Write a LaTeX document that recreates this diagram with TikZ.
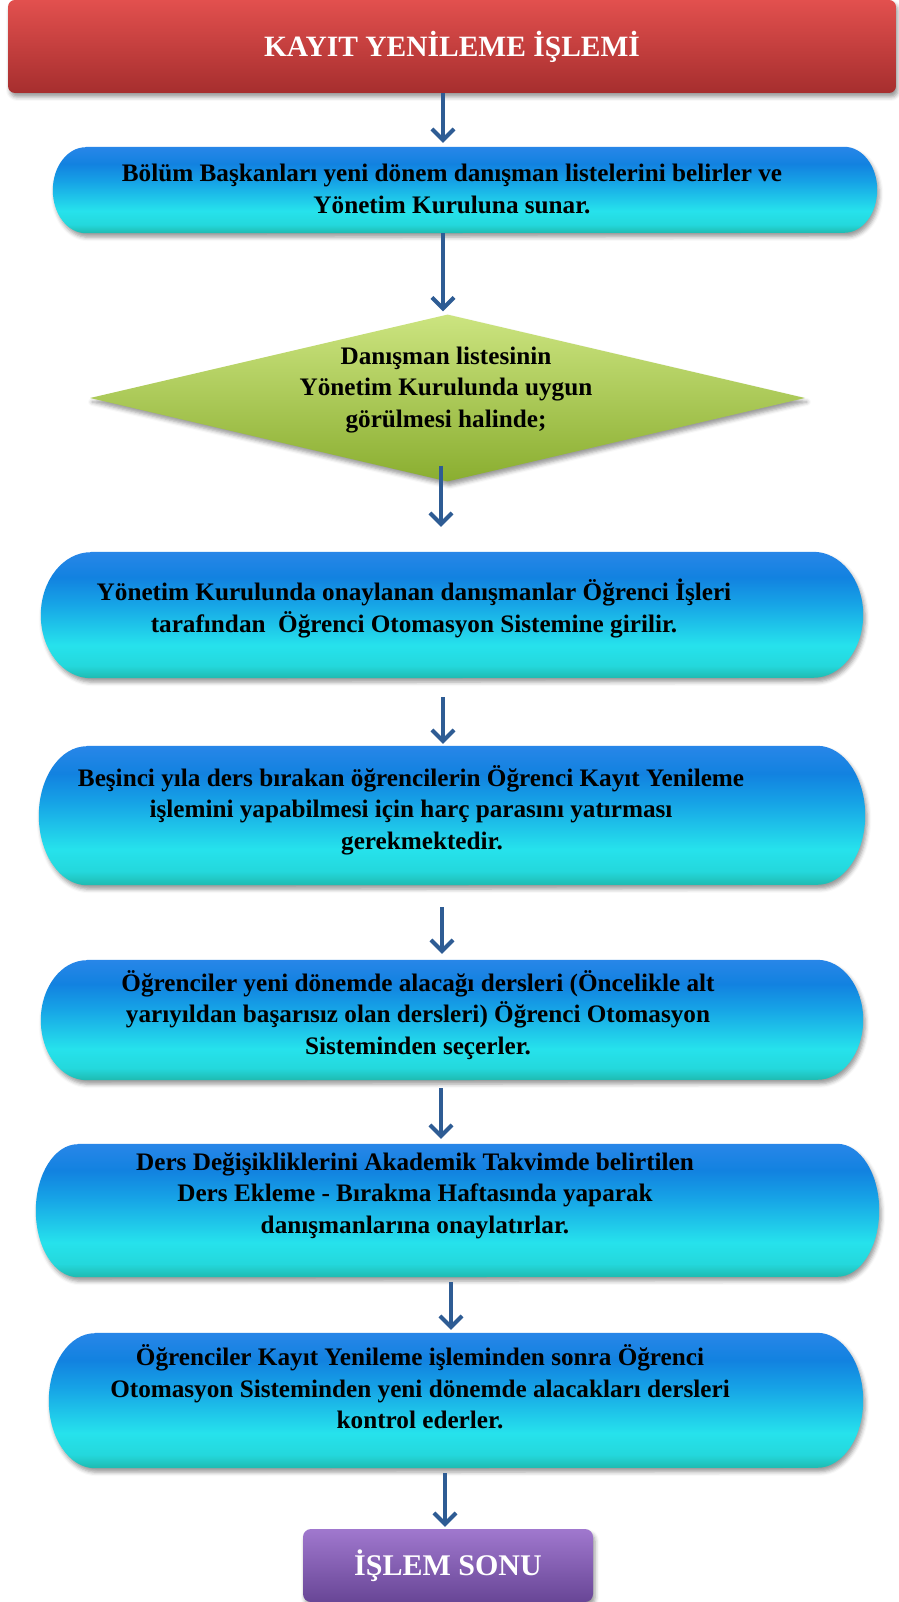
\documentclass[tikz,border=0pt]{standalone}
\usepackage{fontspec}
\setmainfont{Liberation Serif}
\usetikzlibrary{shapes.geometric,arrows.meta,shadows.blur}

\definecolor{arrowblue}{RGB}{46,92,148}
\definecolor{pillteal}{RGB}{30,186,176}
\definecolor{pillaqua}{RGB}{36,216,220}
\definecolor{pillcyan}{RGB}{38,226,236}
\definecolor{pillmid}{RGB}{22,162,230}
\definecolor{pillblue}{RGB}{18,130,224}
\definecolor{pilltop}{RGB}{40,134,232}
\definecolor{redtop}{RGB}{226,80,78}
\definecolor{redbot}{RGB}{166,46,46}
\definecolor{greentop}{RGB}{204,228,128}
\definecolor{greenbot}{RGB}{138,174,48}
\definecolor{purpletop}{RGB}{160,120,206}
\definecolor{purplebot}{RGB}{104,70,150}

% blue-to-cyan fill of the process boxes (path mapped onto 25bp..75bp)
\pgfdeclareverticalshading{pillshade}{100bp}{%
  color(0bp)=(pillteal); color(25bp)=(pillteal); color(30bp)=(pillaqua);
  color(38bp)=(pillcyan); color(55bp)=(pillmid); color(65bp)=(pillblue);
  color(75bp)=(pilltop); color(100bp)=(pilltop)}

% box with half-elliptic ends: #1 anchor node, #2 end radius, #3 half height
\newcommand\pillbody[3]{%
  \path[pillfill] ([xshift=#2]#1.north west) -- ([xshift=-#2]#1.north east)
    arc[start angle=90,end angle=-90,x radius=#2,y radius=#3]
    -- ([xshift=#2]#1.south west)
    arc[start angle=270,end angle=90,x radius=#2,y radius=#3] -- cycle;}

\begin{document}
\begin{tikzpicture}[x=1pt,y=-1pt,
  softshadow/.style={blur shadow={shadow xshift=2pt,shadow yshift=-4pt,shadow opacity=40,shadow blur radius=4pt}},
  frame/.style={rectangle, inner sep=0pt},
  pillfill/.style={shading=pillshade, softshadow},
  titlebox/.style={rectangle, rounded corners=7pt, inner sep=0pt,
    top color=redtop, bottom color=redbot, softshadow,
    text=white, font=\bfseries\fontsize{29.5}{34}\selectfont},
  endbox/.style={rectangle, rounded corners=8pt, inner sep=0pt,
    top color=purpletop, bottom color=purplebot, softshadow,
    text=white, font=\bfseries\fontsize{30}{34}\selectfont},
  decision/.style={diamond, aspect=4.28, inner sep=0pt,
    top color=greentop, bottom color=greenbot, softshadow},
  txt/.style={align=center, inner sep=0pt, font=\bfseries\fontsize{25.2}{31.5}\selectfont},
  arr/.style={draw=arrowblue, line width=4pt, -{Straight Barb[length=11pt,width=22pt]}}
]
\useasboundingbox (0,0) rectangle (898,1602);

% outlines of the process boxes
\node[frame, minimum width=824pt, minimum height=86pt] (b1) at (465,190) {};
\node[frame, minimum width=822pt, minimum height=126pt] (b2) at (452,615) {};
\node[frame, minimum width=826pt, minimum height=139pt] (b3) at (452,815.5) {};
\node[frame, minimum width=822pt, minimum height=120pt] (b4) at (452,1020) {};
\node[frame, minimum width=843pt, minimum height=133pt] (b5) at (457.5,1210.5) {};
\node[frame, minimum width=814pt, minimum height=135pt] (b6) at (456,1400.5) {};

\pillbody{b1}{33pt}{43pt}
\pillbody{b2}{50pt}{63pt}
\pillbody{b3}{48pt}{69.5pt}
\pillbody{b4}{46pt}{60pt}
\pillbody{b5}{42pt}{66.5pt}
\pillbody{b6}{46pt}{67.5pt}

\node[titlebox, minimum width=888pt, minimum height=93pt] (title) at (452,46.5) {KAYIT YENİLEME İŞLEMİ};
\node[decision, minimum width=715pt, minimum height=167pt] (dia) at (447.5,398) {};
\node[endbox, minimum width=290pt, minimum height=73pt] (stop) at (448,1565.5) {İŞLEM SONU};

% texts
\node[txt] (t1) at (452,189) {Bölüm Başkanları yeni dönem danışman listelerini belirler ve\\Yönetim Kuruluna sunar.};
\node[txt] (td) at (446,390) {Danışman listesinin\\Yönetim Kurulunda uygun\\görülmesi halinde;};
\node[txt] (t2) at (414,608.5) {Yönetim Kurulunda onaylanan danışmanlar Öğrenci İşleri\\tarafından\ \ Öğrenci Otomasyon Sistemine girilir.};
\node[txt] (t3) at (411,810) {Beşinci yıla ders bırakan öğrencilerin Öğrenci Kayıt Yenileme\\işlemini yapabilmesi için harç parasını yatırması\hspace*{42pt}\\\hspace*{22pt}gerekmektedir.};
\node[txt] (t4) at (418,1015) {Öğrenciler yeni dönemde alacağı dersleri (Öncelikle alt\\yarıyıldan başarısız olan dersleri) Öğrenci Otomasyon\\Sisteminden seçerler.};
\node[txt] (t5) at (415,1195.5) {Ders Değişikliklerini Akademik Takvimde belirtilen\\Ders Ekleme - Bırakma Haftasında yaparak\\danışmanlarına onaylatırlar.};
\node[txt] (t6) at (420,1387) {Öğrenciler Kayıt Yenileme işleminden sonra Öğrenci\\Otomasyon Sisteminden yeni dönemde alacakları dersleri\\kontrol ederler.};

% connectors
\draw[arr, shorten >=4pt] ([xshift=-9pt]title.south) -- ([xshift=-22pt]b1.north);
\draw[arr, shorten >=3pt] ([xshift=-22pt]b1.south) -- ([xshift=-4.5pt]dia.north);
\draw[arr, shorten <=-16pt, shorten >=25pt] ([xshift=-6.5pt]dia.south) -- ([xshift=-11pt]b2.north);
\draw[arr, shorten <=19pt, shorten >=2pt] ([xshift=-9pt]b2.south) -- ([xshift=-9pt]b3.north);
\draw[arr, shorten <=22pt, shorten >=6pt] ([xshift=-10pt]b3.south) -- ([xshift=-10pt]b4.north);
\draw[arr, shorten <=8pt, shorten >=5pt] ([xshift=-11pt]b4.south) -- ([xshift=-16.5pt]b5.north);
\draw[arr, shorten <=5pt, shorten >=3pt] ([xshift=-6.5pt]b5.south) -- ([xshift=-5pt]b6.north);
\draw[arr, shorten <=5pt, shorten >=2pt] ([xshift=-11pt]b6.south) -- ([xshift=-3pt]stop.north);
\end{tikzpicture}
\end{document}
